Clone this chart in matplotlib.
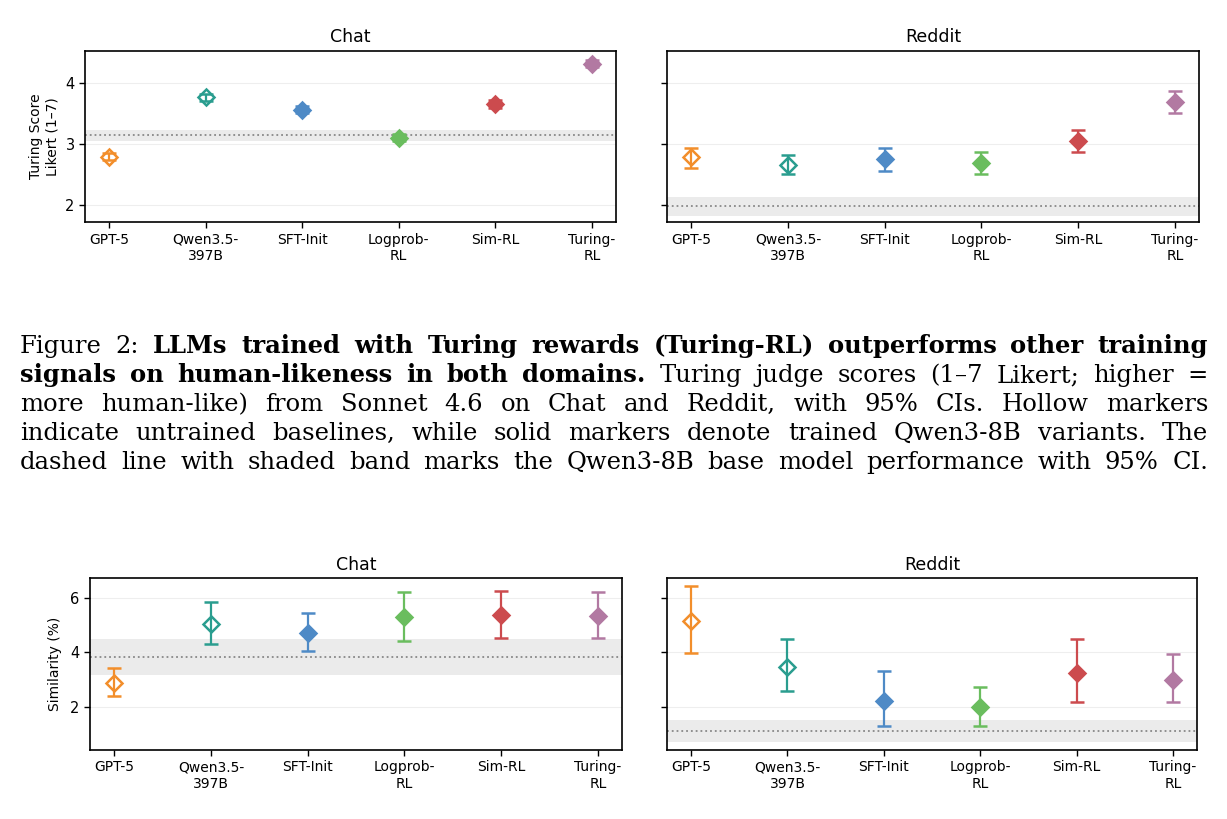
#!/usr/bin/env python3
"""Turing judge scores and similarity for Chat / Reddit, with figure caption."""

import matplotlib
matplotlib.use("Agg")
import matplotlib.pyplot as plt

W, H = 1227, 819

MODELS = ["GPT-5", "Qwen3.5-\n397B", "SFT-Init", "Logprob-\nRL", "Sim-RL", "Turing-\nRL"]
COLORS = ["#F28E2B", "#2A9D8F", "#4E8AC6", "#6ABD5E", "#CC4B4E", "#B279A2"]
HOLLOW = [True, True, False, False, False, False]

# Turing score (1-7 Likert): mean, 95% CI low / high
turing_chat = [2.79, 3.76, 3.56, 3.10, 3.65, 4.31]
turing_chat_lo = [2.73, 3.70, 3.50, 3.04, 3.59, 4.25]
turing_chat_hi = [2.85, 3.82, 3.62, 3.16, 3.71, 4.37]
turing_chat_base = [3.04, 3.14, 3.23]  # band low, mean, band high

turing_reddit = [2.78, 2.65, 2.75, 2.68, 3.04, 3.68]
turing_reddit_lo = [2.61, 2.50, 2.56, 2.51, 2.86, 3.50]
turing_reddit_hi = [2.93, 2.81, 2.93, 2.86, 3.22, 3.87]
turing_reddit_base = [1.83, 1.98, 2.14]

# Similarity (%)
sim_chat = [2.87, 5.04, 4.71, 5.30, 5.37, 5.35]
sim_chat_lo = [2.38, 4.31, 4.04, 4.43, 4.52, 4.52]
sim_chat_hi = [3.42, 5.85, 5.46, 6.22, 6.27, 6.21]
sim_chat_base = [3.16, 3.82, 4.50]

sim_reddit = [5.15, 3.46, 2.21, 1.97, 3.25, 2.98]
sim_reddit_lo = [3.99, 2.58, 1.30, 1.30, 2.18, 2.17]
sim_reddit_hi = [6.43, 4.49, 3.30, 2.72, 4.49, 3.94]
sim_reddit_base = [0.69, 1.09, 1.52]

CAPTION = [
    [("Figure 2:", "normal"), ("LLMs trained with Turing rewards (Turing-RL) outperforms other training", "bold")],
    [("signals on human-likeness in both domains.", "bold"), ("Turing judge scores (1\u20137 Likert; higher =", "normal")],
    [("more human-like) from Sonnet 4.6 on Chat and Reddit, with 95% CIs. Hollow markers", "normal")],
    [("indicate untrained baselines, while solid markers denote trained Qwen3-8B variants. The", "normal")],
    [("dashed line with shaded band marks the Qwen3-8B base model performance with 95% CI.", "normal")],
]
CAPTION_FONT = "DejaVu Serif"


def px_axes(fig, left, top, right, bottom):
    return fig.add_axes([left / W, 1 - bottom / H, (right - left) / W, (bottom - top) / H])


def panel(ax, title, means, lo, hi, base, ylim, yticks, show_labels):
    ax.axhspan(base[0], base[2], color="#ebebeb", zorder=0, lw=0)
    ax.axhline(base[1], color="#888888", ls=":", lw=1.3, zorder=1)
    for i, (m, l, h) in enumerate(zip(means, lo, hi)):
        c = COLORS[i]
        ax.errorbar(i, m, yerr=[[m - l], [h - m]], fmt="D", color=c, ecolor=c,
                    mec=c, mfc="none" if HOLLOW[i] else c, ms=8.5, mew=1.8,
                    elinewidth=1.6, capsize=5, capthick=1.6, zorder=3)
    ax.set_xlim(-0.25, 5.25)
    ax.set_ylim(*ylim)
    ax.set_yticks(yticks)
    ax.set_xticks(range(len(MODELS)))
    ax.set_xticklabels(MODELS, fontsize=10)
    ax.tick_params(axis="y", labelsize=10.5, labelleft=show_labels, length=4, width=1)
    ax.tick_params(axis="x", length=4, width=1)
    ax.yaxis.grid(True, color="#eeeeee", lw=0.8, zorder=0)
    ax.set_axisbelow(True)
    for s in ax.spines.values():
        s.set_linewidth(1.2)
    ax.set_title(title, fontsize=12.5, pad=6)


def split_words(segments):
    words = []
    for text, weight in segments:
        for w in text.split():
            words.append((w, weight))
    return words


def word_widths(fig, words, size):
    renderer = fig.canvas.get_renderer()
    out = []
    for w, weight in words:
        t = fig.text(0, 0, w, fontsize=size, fontweight=weight, family=CAPTION_FONT)
        out.append(t.get_window_extent(renderer).width)
        t.remove()
    return out


def draw_caption(fig, x0=20, x1=1208, y0=353, step=29, max_size=17.5):
    # shrink the font until every line fits with a normal word gap, then justify
    size = max_size
    lines = [split_words(s) for s in CAPTION]
    for _ in range(40):
        fits = True
        for words in lines:
            ws = word_widths(fig, words, size)
            if sum(ws) + (len(ws) - 1) * size * 0.42 > x1 - x0:
                fits = False
                break
        if fits:
            break
        size -= 0.1

    for k, words in enumerate(lines):
        ws = word_widths(fig, words, size)
        gap = (x1 - x0 - sum(ws)) / (len(words) - 1)
        x = x0
        for (w, weight), wd in zip(words, ws):
            fig.text(x / W, 1 - (y0 + step * k) / H, w, fontsize=size, fontweight=weight,
                     family=CAPTION_FONT, va="baseline", ha="left")
            x += wd + gap


def main() -> None:
    fig = plt.figure(figsize=(W / 100, H / 100), dpi=100)
    fig.patch.set_facecolor("white")

    ax = px_axes(fig, 85, 50.7, 616, 222.3)
    panel(ax, "Chat", turing_chat, turing_chat_lo, turing_chat_hi, turing_chat_base,
          (1.72, 4.52), [2, 3, 4], True)
    ax.set_ylabel("Turing Score\nLikert (1\u20137)", fontsize=10, labelpad=4)

    ax = px_axes(fig, 667, 50.7, 1199, 222.3)
    panel(ax, "Reddit", turing_reddit, turing_reddit_lo, turing_reddit_hi, turing_reddit_base,
          (1.72, 4.52), [2, 3, 4], False)

    ax = px_axes(fig, 90, 578, 622, 750)
    panel(ax, "Chat", sim_chat, sim_chat_lo, sim_chat_hi, sim_chat_base,
          (0.4, 6.74), [2, 4, 6], True)
    ax.set_ylabel("Similarity (%)", fontsize=10, labelpad=6)

    ax = px_axes(fig, 667, 578, 1197, 750)
    panel(ax, "Reddit", sim_reddit, sim_reddit_lo, sim_reddit_hi, sim_reddit_base,
          (0.4, 6.74), [2, 4, 6], False)

    draw_caption(fig)

    fig.savefig("out.png", dpi=100)
    plt.close(fig)


if __name__ == "__main__":
    main()
